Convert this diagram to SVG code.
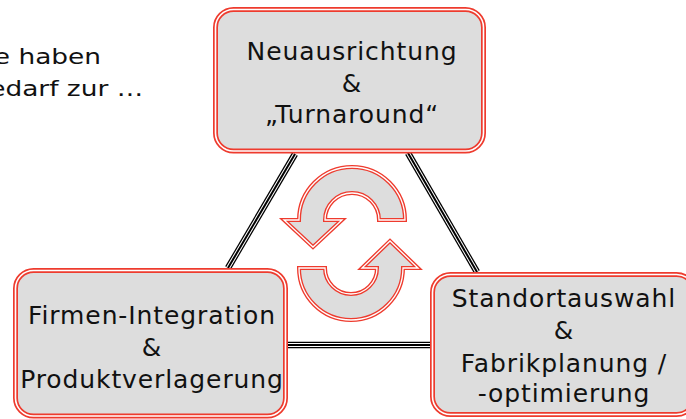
<svg xmlns="http://www.w3.org/2000/svg" xmlns:xlink="http://www.w3.org/1999/xlink" width="686" height="419" viewBox="0 0 686 419">
<style>
  .t { font-family: "DejaVu Sans", Verdana, sans-serif; font-size: 25px; letter-spacing: 0.9px; fill: #111; text-anchor: middle; }
  .tl { font-family: "DejaVu Sans", Verdana, sans-serif; font-size: 22px; fill: #111; text-anchor: end; }
  .boxo { fill: #dddddd; stroke: #ee3b2e; stroke-width: 5; }
  .boxi { fill: none; stroke: #ffffff; stroke-width: 1.6; }
  .arro { fill: #dddddd; stroke: #ee3b2e; stroke-width: 4; stroke-linejoin: miter; }
  .arri { fill: none; stroke: #ffffff; stroke-width: 1.3; stroke-linejoin: miter; }
  .c1 { stroke: #000; stroke-width: 6.5; fill: none; }
  .c2 { stroke: #fff; stroke-width: 4; fill: none; }
  .c3 { stroke: #000; stroke-width: 2; fill: none; }
</style>
<defs>
  <path id="arrUp" d="M 405 220 A 53 53 0 0 0 299 220 L 284 220 L 313 247 L 342 220 L 325 220 A 27 27 0 0 1 379 220 Z"/>
  <path id="arrDn" d="M 299 268 A 52 52 0 0 0 403 268 L 418 268 L 390 241 L 362 268 L 377 268 A 26 26 0 0 1 325 268 Z"/>
</defs>
<g id="intro" transform="scale(1.2,1)">
  <text class="tl" x="84.2" y="64">e haben</text>
  <text class="tl" x="119.2" y="96">edarf zur …</text>
</g>
<g id="connectors">
  <g>
    <line class="c1" x1="295" y1="154" x2="228" y2="268"/>
    <line class="c2" x1="295" y1="154" x2="228" y2="268"/>
    <line class="c3" x1="295" y1="154" x2="228" y2="268"/>
  </g>
  <g>
    <line class="c1" x1="408" y1="153" x2="477" y2="272"/>
    <line class="c2" x1="408" y1="153" x2="477" y2="272"/>
    <line class="c3" x1="408" y1="153" x2="477" y2="272"/>
  </g>
  <g>
    <line class="c1" x1="288" y1="345" x2="431" y2="345"/>
    <line class="c2" x1="288" y1="345" x2="431" y2="345"/>
    <line class="c3" x1="288" y1="345" x2="431" y2="345"/>
  </g>
</g>
<g id="cycle">
  <use xlink:href="#arrUp" class="arro"/>
  <use xlink:href="#arrUp" class="arri"/>
  <use xlink:href="#arrDn" class="arro"/>
  <use xlink:href="#arrDn" class="arri"/>
</g>
<g id="node-top">
  <rect class="boxo" x="215.5" y="9.5" width="268" height="141.5" rx="18"/>
  <rect class="boxi" x="215.5" y="9.5" width="268" height="141.5" rx="18"/>
  <text class="t" x="352" y="60">Neuausrichtung</text>
  <text class="t" x="352" y="92">&amp;</text>
  <text class="t" x="352" y="123">„Turnaround“</text>
</g>
<g id="node-left">
  <rect class="boxo" x="15.5" y="270.5" width="270" height="145.5" rx="18"/>
  <rect class="boxi" x="15.5" y="270.5" width="270" height="145.5" rx="18"/>
  <text class="t" x="152" y="324">Firmen-Integration</text>
  <text class="t" x="152" y="356">&amp;</text>
  <text class="t" x="152" y="388">Produktverlagerung</text>
</g>
<g id="node-right">
  <rect class="boxo" x="432.5" y="274.5" width="262" height="140" rx="18"/>
  <rect class="boxi" x="432.5" y="274.5" width="262" height="140" rx="18"/>
  <text class="t" x="564" y="307">Standortauswahl</text>
  <text class="t" x="564" y="339">&amp;</text>
  <text class="t" x="564" y="372">Fabrikplanung /</text>
  <text class="t" x="564" y="402">-optimierung</text>
</g>
</svg>
